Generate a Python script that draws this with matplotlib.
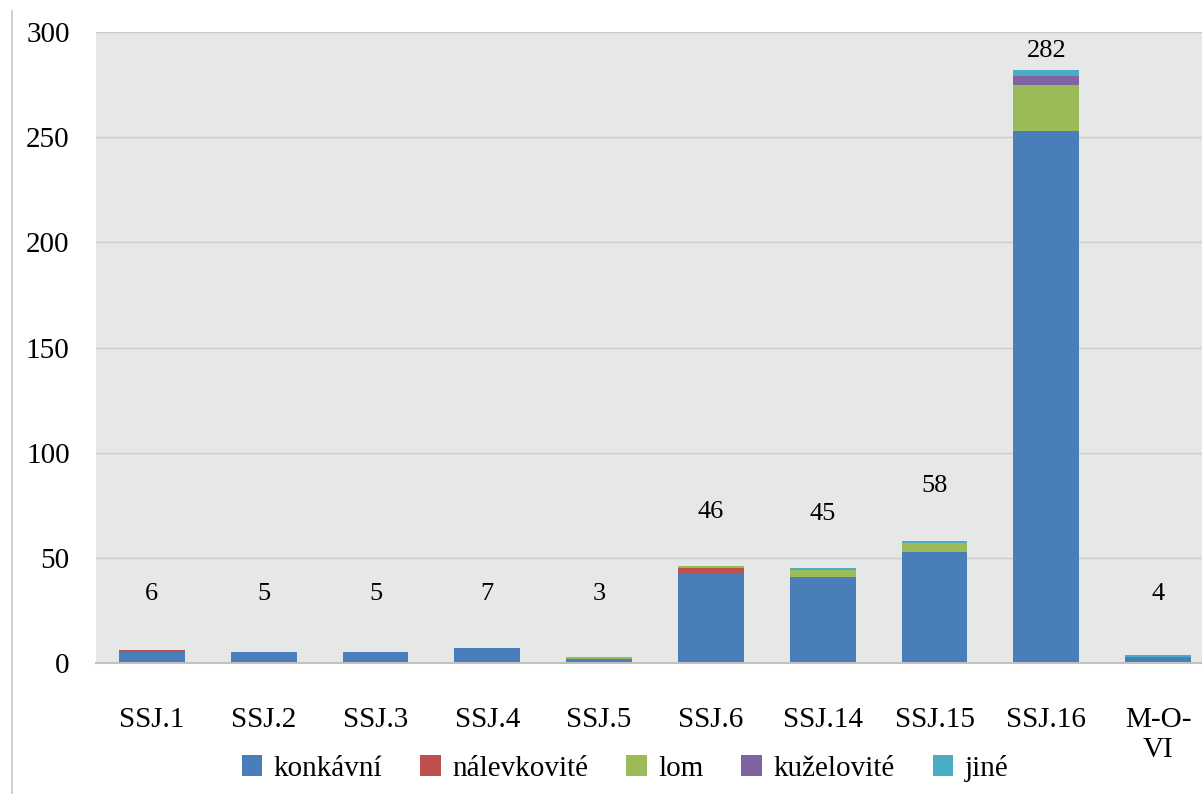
import numpy as np
import matplotlib.pyplot as plt
from matplotlib.lines import Line2D

categories = ['SSJ.1', 'SSJ.2', 'SSJ.3', 'SSJ.4', 'SSJ.5', 'SSJ.6',
              'SSJ.14', 'SSJ.15', 'SSJ.16', 'M-O-\nVI']
konkavni = [5, 5, 5, 7, 2, 43, 41, 53, 253, 3]
nalevkovite = [1, 0, 0, 0, 0, 2, 0, 0, 0, 0]
lom = [0, 0, 0, 0, 1, 1, 3, 4, 22, 0]
kuzelovite = [0, 0, 0, 0, 0, 0, 0, 0, 4, 0]
jine = [0, 0, 0, 0, 0, 0, 1, 1, 3, 1]
totals = [6, 5, 5, 7, 3, 46, 45, 58, 282, 4]

series = [
    ('konkávní', konkavni, '#4A7EBB'),
    ('nálevkovité', nalevkovite, '#C0504D'),
    ('lom', lom, '#9BBB59'),
    ('kuželovité', kuzelovite, '#8064A2'),
    ('jiné', jine, '#4BACC6'),
]

plt.rcParams['font.family'] = ['Liberation Serif', 'DejaVu Serif']

fig = plt.figure(figsize=(12.02, 7.94), dpi=100)
ax = fig.add_axes([96 / 1202, 1 - 663 / 794, 1118 / 1202, 631 / 794])
ax.set_facecolor('#E6E7E7')

x = np.arange(len(categories))
bottom = np.zeros(len(categories))
for name, vals, color in series:
    ax.bar(x, vals, width=0.59, bottom=bottom, color=color, label=name,
           edgecolor='none', zorder=3)
    bottom += np.array(vals)

# total above each column, kept inside the plot
for xi, t in zip(x, totals):
    ax.text(xi, min(max(t, 7) + 26, 291), str(t), ha='center', va='center',
            fontsize=19, zorder=4)

ax.set_xlim(-0.5, len(categories) - 0.5)
ax.set_ylim(0, 300)
ax.set_yticks(range(0, 301, 50))
ax.yaxis.grid(True, color='#CCCCCC', linewidth=1, zorder=0)
ax.set_xticks(x)
ax.set_xticklabels(categories)
ax.tick_params(axis='x', length=0, pad=32, labelsize=21)
ax.tick_params(axis='y', length=0, pad=19, labelsize=21)
for side in ['top', 'left', 'right']:
    ax.spines[side].set_visible(False)
ax.spines['bottom'].set_color('#C0C0C0')
ax.spines['bottom'].set_linewidth(1.5)
ax.spines['bottom'].set_zorder(5)

fig.add_artist(Line2D([12 / 1202, 12 / 1202], [0, 1 - 11 / 794],
                      color='#C8C8C8', linewidth=1.2))

handles, labels = ax.get_legend_handles_labels()
fig.legend(handles, labels, loc='center', ncol=5,
           bbox_to_anchor=(625 / 1202, 1 - 768 / 794), frameon=False,
           fontsize=21, handlelength=0.7, handleheight=0.7,
           handletextpad=0.4, columnspacing=1.3)

fig.savefig('out.png', dpi=100)
